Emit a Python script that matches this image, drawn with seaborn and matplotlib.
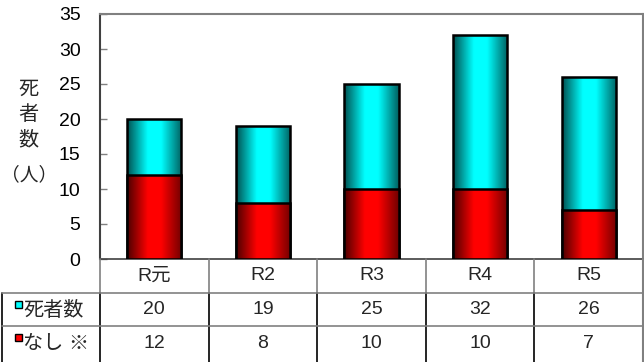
import matplotlib
matplotlib.use("Agg")
import matplotlib.pyplot as plt
from matplotlib.colors import LinearSegmentedColormap
import numpy as np
import pandas as pd
import seaborn as sns

# data
years = ["R元", "R2", "R3", "R4", "R5"]
deaths = [20, 19, 25, 32, 26]
nashi = [12, 8, 10, 10, 7]
row_labels = ["死者数", "なし ※"]

W, H = 644, 362
CYAN = "#00FFFF"
RED = "#FF0000"

sns.set_theme(style="white")
plt.rcParams["font.family"] = ["Liberation Sans", "Noto Sans CJK JP", "DejaVu Sans"]

df = pd.DataFrame({"year": years, "deaths": deaths, "nashi": nashi})

fig = plt.figure(figsize=(W / 100, H / 100), dpi=100)
ax = fig.add_axes([100 / W, (H - 259) / H, 543 / W, 245 / H])

sns.barplot(data=df, x="year", y="deaths", color=CYAN, width=0.5, saturation=1, ax=ax)
sns.barplot(data=df, x="year", y="nashi", color=RED, width=0.5, saturation=1, ax=ax)

# horizontal shading on the bars (dark edges, bright centre)
cmaps = {
    CYAN: LinearSegmentedColormap.from_list(
        "c", [(0, "#004f4f"), (0.38, CYAN), (0.62, CYAN), (1, "#006060")]),
    RED: LinearSegmentedColormap.from_list(
        "r", [(0, "#4a0000"), (0.38, RED), (0.62, RED), (1, "#700000")]),
}
grad = np.linspace(0, 1, 256)[None, :]
n = len(years)
for k, p in enumerate(ax.patches):
    col = CYAN if k < n else RED
    x0, y0 = p.get_x(), p.get_y()
    w, h = p.get_width(), p.get_height()
    im = ax.imshow(grad, cmap=cmaps[col], extent=[x0, x0 + w, y0, y0 + h],
                   aspect="auto", zorder=2 + (k >= n) * 2, interpolation="bilinear")
    im.set_clip_path(p)
    p.set_facecolor("none")
    p.set_edgecolor("black")
    p.set_linewidth(1.8)
    p.set_zorder(3 + (k >= n) * 2)

ax.set_xlim(-0.5, n - 0.5)
ax.set_ylim(0, 35)
ax.set_yticks(range(0, 36, 5))
ax.set_xticks([])
ax.set_xlabel("")
ax.set_ylabel("")
ax.tick_params(axis="y", direction="in", length=5, width=1, color="#808080",
               left=True, labelsize=14, pad=14, labelcolor="black")
for s in ["top", "right"]:
    ax.spines[s].set_color("#808080")
    ax.spines[s].set_linewidth(1.5)
ax.spines["left"].set_color("#404040")
ax.spines["left"].set_linewidth(1.5)
ax.spines["bottom"].set_color("#404040")
ax.spines["bottom"].set_linewidth(1.2)

# y label stacked vertically
for ch, yy in zip(["死", "者", "数"], [89, 114, 140]):
    fig.text(28 / W, 1 - yy / H, ch, ha="center", va="center", fontsize=14.5)
fig.text(29 / W, 1 - 175 / H, "（人）", ha="center", va="center", fontsize=13.5)

# data table below the plot, in pixel coordinates
tax = fig.add_axes([0, 0, 1, 1])
tax.set_xlim(0, W)
tax.set_ylim(H, 0)
tax.axis("off")
tax.patch.set_visible(False)

fig.canvas.draw()
bounds = [ax.transData.transform((i - 0.5, 0))[0] for i in range(n + 1)]
rows = [259, 293, 326, 362]
gray = "#808080"

for b in bounds:
    tax.plot([b, b], [rows[0], rows[1]], color=gray, lw=1.2)
    tax.plot([b, b], [rows[1], rows[3]], color="black", lw=1.2)
tax.plot([bounds[-1], bounds[-1]], [rows[0], rows[3]], color=gray, lw=1.5)
tax.plot([2, 2], [rows[1], rows[3]], color="black", lw=1.2)
for r in rows[1:3]:
    tax.plot([2, bounds[-1]], [r, r], color=gray, lw=1.2)

centers = [(bounds[i] + bounds[i + 1]) / 2 for i in range(n)]
for c, yr, d, s in zip(centers, years, deaths, nashi):
    tax.text(c, 276, yr, ha="center", va="center", fontsize=14)
    tax.text(c, 310, str(d), ha="center", va="center", fontsize=14)
    tax.text(c, 343, str(s), ha="center", va="center", fontsize=14)

for (lab, col, yc) in [(row_labels[0], CYAN, 310), (row_labels[1], RED, 343)]:
    tax.add_patch(plt.Rectangle((15, yc - 9), 7, 7, facecolor=col,
                                edgecolor="black", lw=1))
    tax.text(23, yc, lab, ha="left", va="center", fontsize=14.5)

fig.savefig("out.png", dpi=100)
